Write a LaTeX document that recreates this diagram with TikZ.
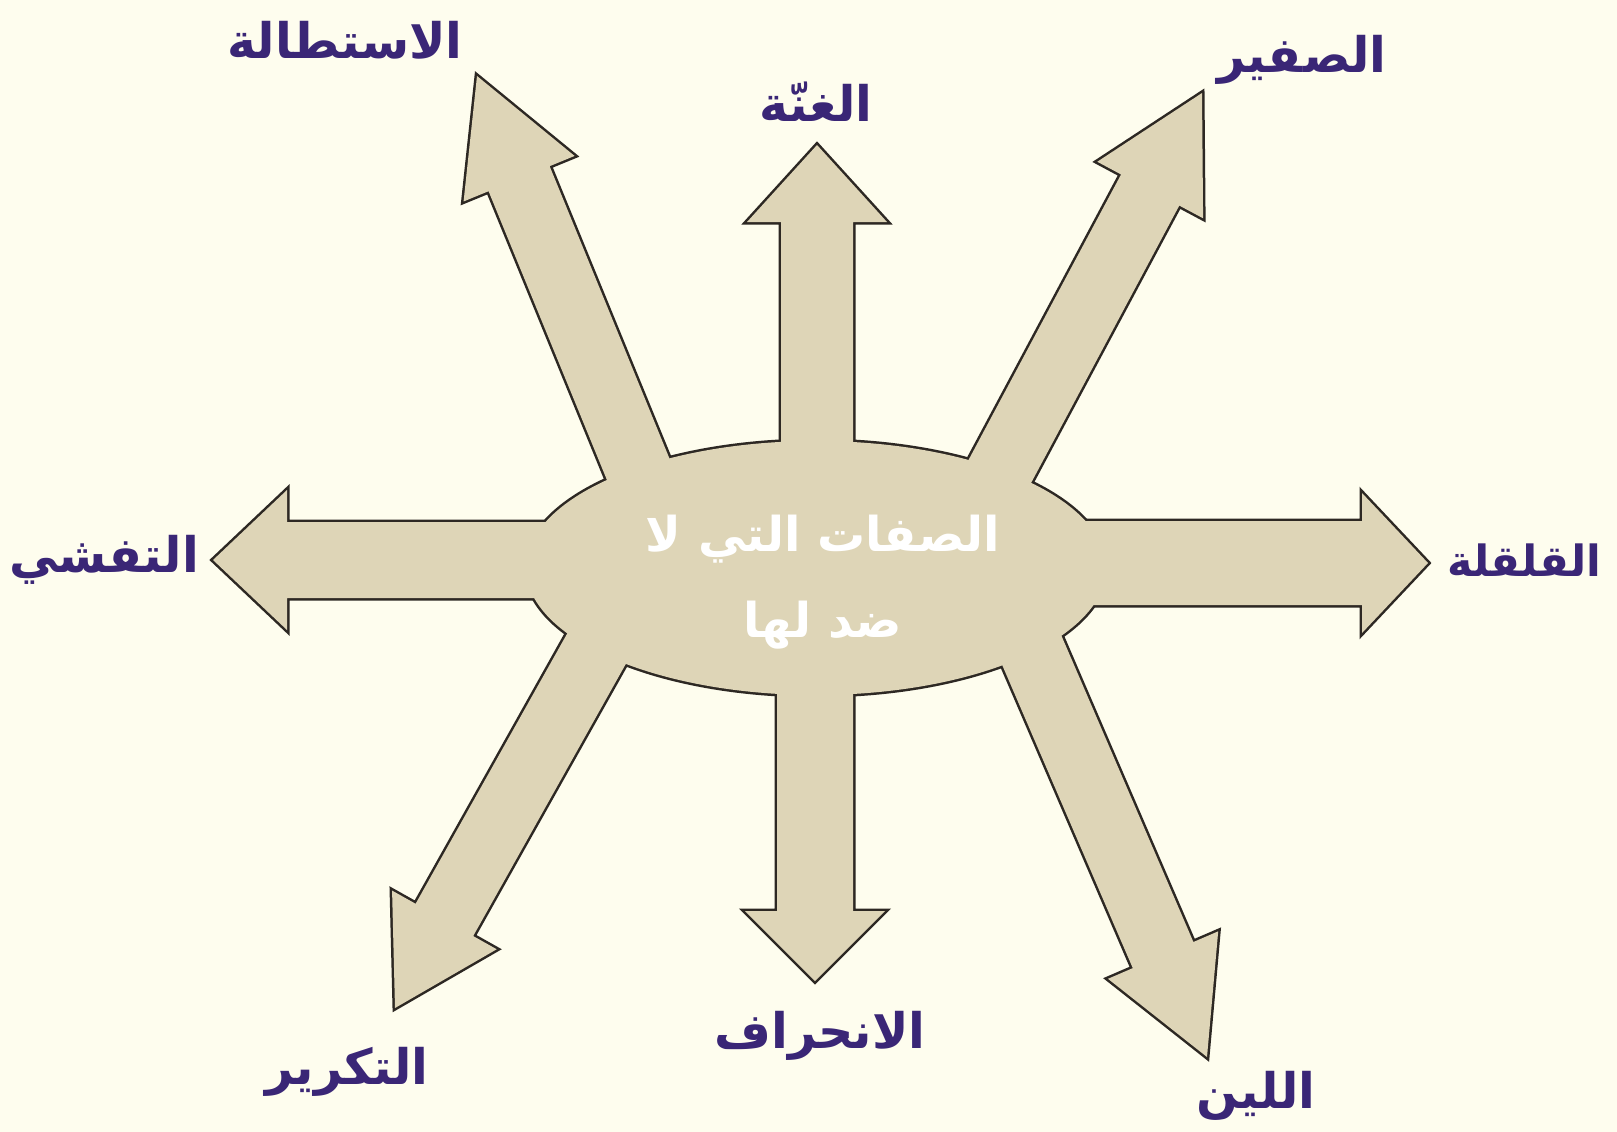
\documentclass[tikz,border=0pt]{standalone}
\usepackage{fontspec}
\usetikzlibrary{calc,positioning}
\TeXXeTstate=1
\newfontfamily\arabicfont[Script=Arabic]{DejaVu Sans}
\definecolor{paper}{RGB}{254,253,238}
\definecolor{sand}{RGB}{222,213,183}
\definecolor{edge}{RGB}{45,40,35}
\definecolor{plum}{RGB}{58,38,118}
% block arrow outline: name, head half width, shaft half width
\newcommand\blockarrow[3]{%
  (t#1) -- ($(h#1)!#2!90:(t#1)$) -- ($(h#1)!#3!90:(t#1)$) -- ($(b#1)!#3!90:(t#1)$)
  -- ($(b#1)!#3!-90:(t#1)$) -- ($(h#1)!#3!-90:(t#1)$) -- ($(h#1)!#2!-90:(t#1)$) -- cycle}

\begin{document}
\begin{tikzpicture}[x=1pt,y=-1pt,
    feature/.style={font=\arabicfont\bfseries\fontsize{49}{55}\selectfont, text=plum, inner sep=0pt},
    hub/.style={font=\arabicfont\bfseries\fontsize{48}{86}\selectfont, text=white, align=center, inner sep=0pt},
    outline/.style={draw=edge, line width=5pt},
    body/.style={fill=sand}]
  \fill[paper] (0,0) rectangle (1617,1132);

  % tips and bases of the eight arrows
  \foreach \n/\tx/\ty/\bx/\by/\hl in {up/817/145/817/560/77, down/815/981/815/570/70,
      right/1428/563/820/563/66, left/213/560/810/560/74,
      ul/477/76/659/520/111, ur/1202/93/976/516/110,
      ll/395/1008/630/589/101, lr/1207/1057/1017/616/111} {
    \coordinate (t\n) at (\tx,\ty);
    \coordinate (b\n) at (\bx,\by);
    \coordinate (h\n) at ($(t\n)!\hl pt!(b\n)$);
  }

  % outlines first, then the fills over them
  \foreach \n/\hw/\sw in {up/70/36, down/70/38, right/70/42, left/70/38,
      ul/60/33, ur/60/33, ll/60/33, lr/60/33}
    \path[outline] \blockarrow{\n}{\hw pt}{\sw pt};
  \path[outline] (816,568) ellipse [x radius=290, y radius=127];
  \foreach \n/\hw/\sw in {up/70/36, down/70/38, right/70/42, left/70/38,
      ul/60/33, ur/60/33, ll/60/33, lr/60/33}
    \path[body] \blockarrow{\n}{\hw pt}{\sw pt};
  \path[body] (816,568) ellipse [x radius=290, y radius=127];

  \node[hub] (hub) at (823,582) {\beginR الصفات التي لا\endR\\ \beginR ضد لها\endR};

  \node[feature] (ghunna) at (816,102) {\beginR الغنّة\endR};
  \node[feature] (istitala) at (345,40) {\beginR الاستطالة\endR};
  \node[feature] (safir) at (1302,60) {\beginR الصفير\endR};
  \node[feature] (tafashi) at (104,560) {\beginR التفشي\endR};
  \node[feature, font=\arabicfont\bfseries\fontsize{43}{50}\selectfont] (qalqala) at (1524,560) {\beginR القلقلة\endR};
  \node[feature] (takrir) at (347,1072) {\beginR التكرير\endR};
  \node[feature] (inhiraf) at (820,1036) {\beginR الانحراف\endR};
  \node[feature] (lin) at (1256,1096) {\beginR اللين\endR};
\end{tikzpicture}
\end{document}
